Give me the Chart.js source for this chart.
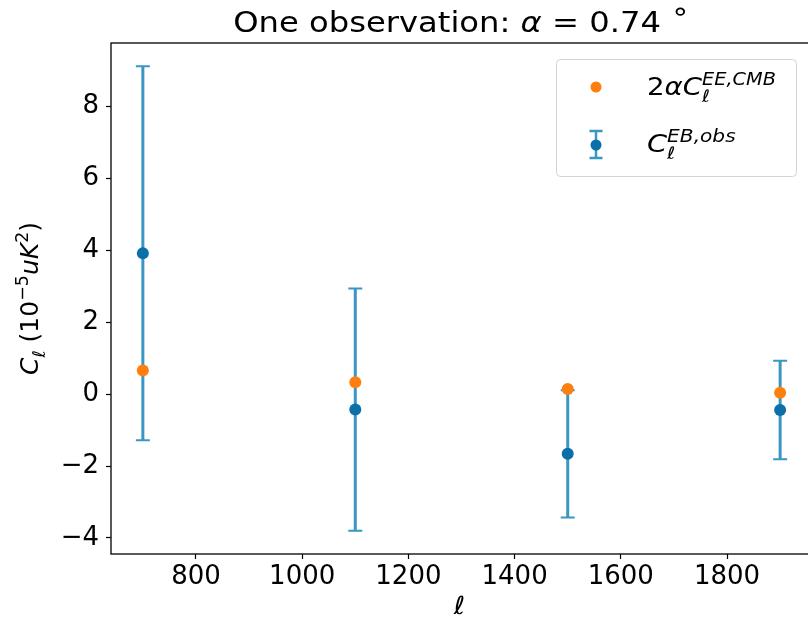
<!DOCTYPE html>
<html>
<head>
<meta charset="utf-8">
<script src="https://cdn.jsdelivr.net/npm/chart.js@4.4.0/dist/chart.umd.min.js"></script>
<style>
  html, body { margin: 0; padding: 0; background: #fff; overflow: hidden; }
  #wrap { width: 808px; height: 623px; overflow: hidden; }
</style>
</head>
<body>
<div id="wrap"><canvas id="errChart" width="818" height="623"></canvas></div>
<script>
// multipoles and spectra (units of 1e-5 uK^2)
const ells = [700, 1100, 1500, 1900];
const eeModel = [0.66, 0.33, 0.14, 0.04];   // 2 alpha C_l^EE,CMB
const ebObs = [3.92, -0.43, -1.66, -0.44];  // C_l^EB,obs
const ebErr = [5.2, 3.37, 1.77, 1.37];
const xTicks = [800, 1000, 1200, 1400, 1600, 1800];
const yTicks = [-4, -2, 0, 2, 4, 6, 8];

const FONT = "'DejaVu Sans', sans-serif";
const orange = '#ff7f0e';
const blueDot = '#0b6fa9';
const blueBar = '#3a97c3';

// matplotlib style 5% margins
const xLo = Math.min(...ells), xHi = Math.max(...ells);
const allY = ebObs.map((v, i) => v - ebErr[i]).concat(ebObs.map((v, i) => v + ebErr[i]), eeModel);
const yLo = Math.min(...allY), yHi = Math.max(...allY);
const xPad = (xHi - xLo) * 0.05, yPad = (yHi - yLo) * 0.05;

// text made of pieces (italic / sub / superscript), hs = horizontal stretch
function pieceSize(p, size) {
  if (p.sz) return size * p.sz;
  return p.sh ? size * 0.7 : size;
}
function richWidth(c, parts, size) {
  let w = 0, hold = 0;
  parts.forEach(p => {
    c.font = (p.it ? 'italic ' : '') + pieceSize(p, size) + 'px ' + FONT;
    const pw = c.measureText(p.t).width;
    if (p.keep) { hold = pw; } else { w += Math.max(pw, hold); hold = 0; }
  });
  return w;
}
function drawRich(c, parts, x, y, size, center, hs) {
  hs = hs || 1;
  c.save();
  c.translate(x, y);
  c.scale(hs, 1);
  let cx = center ? -richWidth(c, parts, size) / 2 : 0;
  c.textAlign = 'left';
  c.textBaseline = 'alphabetic';
  c.fillStyle = '#000';
  parts.forEach(p => {
    c.font = (p.it ? 'italic ' : '') + pieceSize(p, size) + 'px ' + FONT;
    let dy = 0;
    if (p.sh === 'sup') dy = -size * 0.42;
    if (p.sh === 'sub') dy = size * 0.28;
    c.fillText(p.t, cx, dy);
    if (!p.keep) cx += c.measureText(p.t).width;
  });
  c.restore();
}

const errorBars = {
  id: 'errorBars',
  beforeDatasetsDraw(chart) {
    const c = chart.ctx, xs = chart.scales.x, ys = chart.scales.y;
    c.save();
    c.strokeStyle = blueBar;
    ells.forEach((l, i) => {
      const px = xs.getPixelForValue(l);
      const top = ys.getPixelForValue(ebObs[i] + ebErr[i]);
      const bot = ys.getPixelForValue(ebObs[i] - ebErr[i]);
      c.lineWidth = 3;
      c.beginPath();
      c.moveTo(px, top); c.lineTo(px, bot);
      c.stroke();
      c.lineWidth = 2;
      c.beginPath();
      c.moveTo(px - 7, top); c.lineTo(px + 7, top);
      c.moveTo(px - 7, bot); c.lineTo(px + 7, bot);
      c.stroke();
    });
    c.restore();
  }
};

const decorations = {
  id: 'decorations',
  afterDraw(chart) {
    const c = chart.ctx, a = chart.chartArea;
    c.save();
    // spines
    c.strokeStyle = '#000';
    c.lineWidth = 1.3;
    c.strokeRect(a.left, a.top, a.right - a.left, a.bottom - a.top);

    const midX = (a.left + a.right) / 2, midY = (a.top + a.bottom) / 2;
    // title
    drawRich(c, [
      { t: 'One observation: ' }, { t: 'α', it: true }, { t: ' = 0.74' }, { t: ' ∘', sh: 'sup', sz: 0.95 }
    ], midX, 32, 28, true, 1.15);
    // x label
    drawRich(c, [{ t: 'ℓ', it: true }], midX - 2, 614, 25, true, 1.1);
    // y label
    c.save();
    c.translate(38, midY);
    c.rotate(-Math.PI / 2);
    drawRich(c, [
      { t: 'C', it: true }, { t: 'ℓ', it: true, sh: 'sub' }, { t: ' (10' }, { t: '−5', sh: 'sup' },
      { t: 'uK', it: true }, { t: '2', sh: 'sup' }, { t: ')' }
    ], 0, 0, 25, true);
    c.restore();

    // legend
    const lx = 556.5, ly = 59.5, lw = 240, lh = 117;
    c.fillStyle = 'rgba(255,255,255,0.85)';
    c.strokeStyle = '#d4d4d4';
    c.lineWidth = 1;
    c.beginPath();
    c.roundRect(lx, ly, lw, lh, 4);
    c.fill(); c.stroke();

    c.fillStyle = orange;
    c.beginPath(); c.arc(596, 87, 5.5, 0, Math.PI * 2); c.fill();
    drawRich(c, [
      { t: '2' }, { t: 'α', it: true }, { t: 'C', it: true },
      { t: 'ℓ', it: true, sh: 'sub', keep: true }, { t: 'EE,CMB', it: true, sh: 'sup' }
    ], 647, 95, 24, false, 1.15);

    c.strokeStyle = blueBar;
    c.lineWidth = 2.5;
    c.beginPath();
    c.moveTo(596, 131); c.lineTo(596, 158);
    c.moveTo(589.5, 131); c.lineTo(602.5, 131);
    c.moveTo(589.5, 158); c.lineTo(602.5, 158);
    c.stroke();
    c.fillStyle = blueDot;
    c.beginPath(); c.arc(596, 145, 5.5, 0, Math.PI * 2); c.fill();
    drawRich(c, [
      { t: 'C', it: true }, { t: 'ℓ', it: true, sh: 'sub', keep: true }, { t: 'EB,obs', it: true, sh: 'sup' }
    ], 647, 152, 24, false, 1.2);
    c.restore();
  }
};

const ctx = document.getElementById('errChart').getContext('2d');
new Chart(ctx, {
  type: 'scatter',
  data: {
    datasets: [
      {
        label: 'EB obs',
        data: ells.map((l, i) => ({ x: l, y: ebObs[i] })),
        backgroundColor: blueDot,
        borderWidth: 0,
        pointRadius: 6,
        order: 1
      },
      {
        label: '2 alpha EE',
        data: ells.map((l, i) => ({ x: l, y: eeModel[i] })),
        backgroundColor: orange,
        borderWidth: 0,
        pointRadius: 6,
        order: 0
      }
    ]
  },
  options: {
    responsive: false,
    animation: false,
    devicePixelRatio: 1,
    layout: { padding: { top: 43, right: 3, left: 0, bottom: 0 } },
    plugins: {
      legend: { display: false },
      tooltip: { enabled: false },
      title: { display: false }
    },
    scales: {
      x: {
        type: 'linear',
        min: xLo - xPad,
        max: xHi + xPad,
        afterFit: (s) => { s.height = 69; },
        afterBuildTicks: (s) => { s.ticks = xTicks.map(v => ({ value: v })); },
        ticks: {
          font: { family: FONT, size: 26 }, color: '#000', padding: 3, maxRotation: 0,
          callback: (v) => String(v)
        },
        grid: { drawOnChartArea: false, tickLength: 5, tickColor: '#000', tickWidth: 1.2 },
        border: { display: false }
      },
      y: {
        type: 'linear',
        min: yLo - yPad,
        max: yHi + yPad,
        afterFit: (s) => { s.width = 111; },
        afterBuildTicks: (s) => { s.ticks = yTicks.map(v => ({ value: v })); },
        ticks: {
          font: { family: FONT, size: 26 }, color: '#000', padding: 7,
          callback: (v) => String(v).replace('-', '\u2212')
        },
        grid: { drawOnChartArea: false, tickLength: 5, tickColor: '#000', tickWidth: 1.2 },
        border: { display: false }
      }
    }
  },
  plugins: [errorBars, decorations]
});
</script>
</body>
</html>
